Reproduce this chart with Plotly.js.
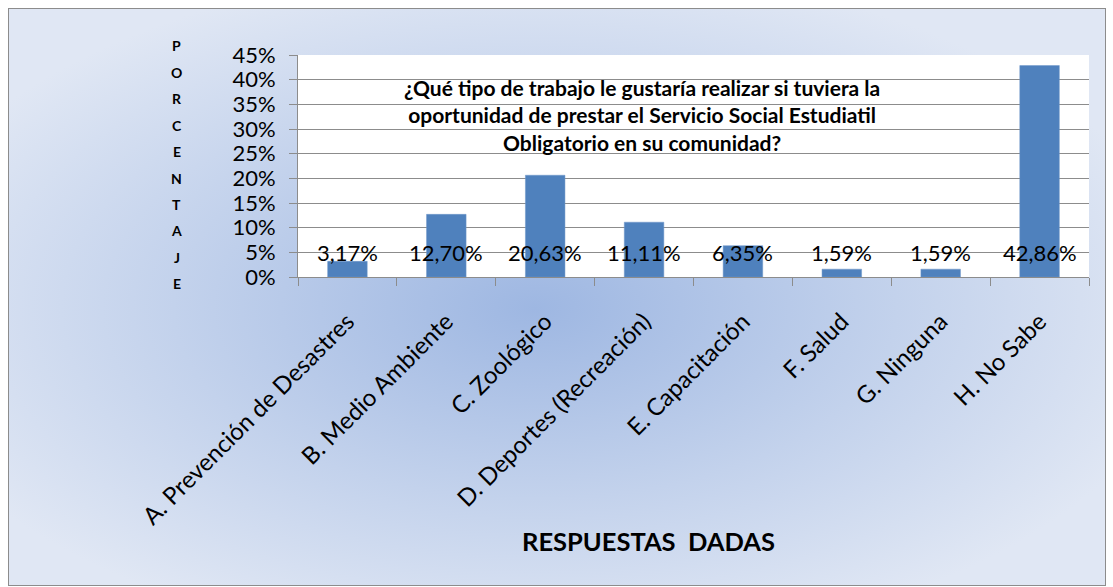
<!DOCTYPE html>
<html>
<head>
<meta charset="utf-8">
<script src="https://cdn.plot.ly/plotly-3.0.1.min.js"></script>
<style>
  html, body { margin: 0; padding: 0; background: #ffffff; }
  #frame {
    position: absolute; left: 8px; top: 8px; width: 1096px; height: 576px;
    border: 1px solid #8c8c8c;
    background: radial-gradient(ellipse 60% 60% at 48% 52%, #9eb7e2 0%, #c3d2ec 55%, #e0e7f4 100%);
  }
  #chart { position: absolute; left: 0; top: 0; width: 1113px; height: 587px; }
</style>
</head>
<body>
<div id="frame"></div>
<div id="chart"></div>
<script>
const categories = [
  "A. Prevención de Desastres",
  "B. Medio Ambiente",
  "C. Zoológico",
  "D. Deportes (Recreación)",
  "E. Capacitación",
  "F. Salud",
  "G. Ninguna",
  "H. No Sabe"
];
const percentages = [3.17, 12.70, 20.63, 11.11, 6.35, 1.59, 1.59, 42.86];
const valueLabels = ["3,17%", "12,70%", "20,63%", "11,11%", "6,35%", "1,59%", "1,59%", "42,86%"];
const yTickValues = [0, 0.05, 0.10, 0.15, 0.20, 0.25, 0.30, 0.35, 0.40, 0.45];
const yTickLabels = ["0%", "5%", "10%", "15%", "20%", "25%", "30%", "35%", "40%", "45%"];
const chartTitle = "¿Qué tipo de trabajo le gustaría realizar si tuviera la<br>oportunidad de prestar el Servicio Social Estudiatil<br>Obligatorio en su comunidad?";
const yTitleLetters = ["P", "O", "R", "C", "E", "N", "T", "A", "J", "E"];
const xTitle = "RESPUESTAS  DADAS";

const FONT = "Lato, 'Open Sans', sans-serif";
const LABEL_Y = 0.049;
const PLOT_H = 222;            // plot area height in px
const LETTER_TOP_PX = 9;       // first letter, px above plot top
const LETTER_STEP_PX = 26.4;   // spacing between stacked letters

const bars = {
  type: "bar",
  x: categories,
  y: percentages.map(v => v / 100),
  marker: { color: "#4f81bd", line: { color: "#6f97c9", width: 0.5 } },
  hoverinfo: "skip"
};

const labelAnnotations = categories.map((c, i) => ({
  x: c, y: LABEL_Y, xref: "x", yref: "y",
  text: valueLabels[i], showarrow: false,
  font: { family: FONT, size: 22, color: "#000000" },
  xanchor: "center", yanchor: "middle"
}));

const letterAnnotations = yTitleLetters.map((l, i) => ({
  xref: "paper", yref: "paper", x: -0.153,
  y: 1 + (LETTER_TOP_PX - i * LETTER_STEP_PX) / PLOT_H,
  text: "<b>" + l + "</b>", showarrow: false,
  font: { family: FONT, size: 14, color: "#000000" },
  xanchor: "center", yanchor: "middle"
}));

const layout = {
  width: 1113, height: 587,
  margin: { l: 298, r: 24, t: 55, b: 310 },
  paper_bgcolor: "rgba(0,0,0,0)",
  plot_bgcolor: "#ffffff",
  bargap: 0.6,
  showlegend: false,
  font: { family: FONT, color: "#000000" },
  xaxis: {
    type: "category",
    tickangle: -45,
    tickson: "boundaries",
    ticks: "outside", ticklen: 8, tickcolor: "#8c8c8c",
    ticklabelstandoff: 20,
    showline: true, linecolor: "#8c8c8c", linewidth: 1,
    showgrid: false,
    tickfont: { family: FONT, size: 24, color: "#000000" },
    automargin: false,
    fixedrange: true
  },
  yaxis: {
    range: [0, 0.45],
    tickvals: yTickValues,
    ticktext: yTickLabels,
    ticks: "outside", ticklen: 8, tickcolor: "#8c8c8c",
    ticklabelstandoff: 9,
    showline: true, linecolor: "#8c8c8c", linewidth: 1,
    showgrid: true, gridcolor: "#8c8c8c", gridwidth: 1,
    zeroline: false,
    tickfont: { family: FONT, size: 22, color: "#000000" },
    automargin: false,
    fixedrange: true
  },
  annotations: labelAnnotations.concat(letterAnnotations, [
    {
      xref: "paper", yref: "paper", x: 0.435, y: 0.73,
      text: "<b>" + chartTitle + "</b>", showarrow: false,
      font: { family: FONT, size: 21, color: "#000000" },
      align: "center", xanchor: "center", yanchor: "middle"
    },
    {
      xref: "paper", yref: "paper", x: 0.4425, y: -1.19,
      text: "<b>" + xTitle + "</b>", showarrow: false,
      font: { family: FONT, size: 25.5, color: "#000000" },
      xanchor: "center", yanchor: "middle"
    }
  ])
};

Plotly.newPlot("chart", [bars], layout, { displayModeBar: false, staticPlot: true });
</script>
</body>
</html>
